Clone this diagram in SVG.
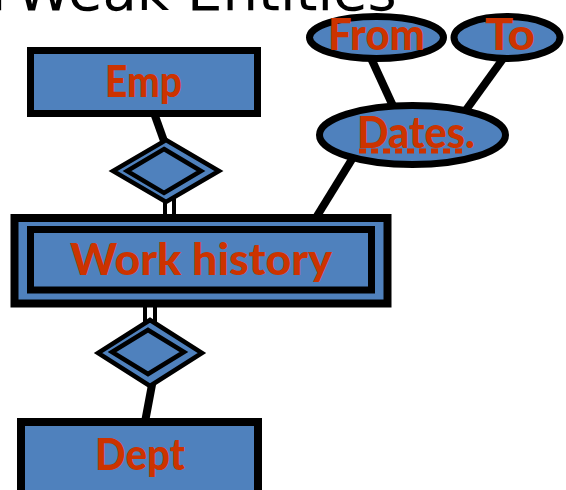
<svg xmlns="http://www.w3.org/2000/svg" width="566" height="490" viewBox="0 0 566 490">
  <style>
    .shape { fill: #4f81bd; stroke: #000; }
    .label { font-family: "Comic Sans MS", Lato, "DejaVu Sans", sans-serif; font-weight: 900; font-size: 44px; fill: #cc3300; text-anchor: middle; }
    .title { font-family: "DejaVu Sans", Verdana, sans-serif; font-size: 56px; fill: #000; }
    .link { stroke: #000; stroke-width: 8; fill: none; }
    .dbl { stroke: #000; stroke-width: 4; fill: none; }
  </style>

  <!-- heading, mostly above the top edge -->
  <text class="title" y="10"><tspan x="-9">r</tspan><tspan x="16">Weak Entities</tspan></text>

  <!-- connectors -->
  <g id="connectors">
    <line class="link" x1="154" y1="113" x2="164" y2="141"/>
    <line class="dbl" x1="165" y1="198" x2="165" y2="216"/>
    <line class="dbl" x1="174" y1="196" x2="174" y2="216"/>
    <line class="dbl" x1="145" y1="303" x2="145" y2="324"/>
    <line class="dbl" x1="155" y1="303" x2="155" y2="324"/>
    <line class="link" x1="154" y1="374" x2="145" y2="422"/>
    <line class="link" x1="317" y1="216" x2="354" y2="156"/>
    <line class="link" x1="370" y1="56" x2="393" y2="106"/>
    <line class="link" x1="505" y1="56" x2="466" y2="110"/>
  </g>

  <g id="emp">
    <rect class="shape" x="30.5" y="50.5" width="227" height="63" stroke-width="7"/>
    <text class="label" x="143.5" y="97" textLength="77" lengthAdjust="spacingAndGlyphs">Emp</text>
  </g>

  <g id="rel-emp">
    <polygon class="shape" points="166,140 219,171 166,202 113,171" stroke-width="4.5"/>
    <polygon class="shape" points="164,149 201,171 164,193 127,171" stroke-width="4.5"/>
  </g>

  <g id="work-history">
    <rect class="shape" x="14.5" y="218" width="373" height="85.5" stroke-width="8"/>
    <rect class="shape" x="30.5" y="229.5" width="341" height="60.5" stroke-width="7"/>
    <text class="label" x="201" y="275" textLength="262" lengthAdjust="spacingAndGlyphs">Work history</text>
  </g>

  <g id="rel-dept">
    <polygon class="shape" points="150,320 202,353 150,386 98,353" stroke-width="4.5"/>
    <polygon class="shape" points="148,330 184,352 148,374 112,352" stroke-width="4.5"/>
  </g>

  <g id="dept">
    <rect class="shape" x="21" y="422" width="237" height="80" stroke-width="8"/>
    <text class="label" x="140" y="470" textLength="90" lengthAdjust="spacingAndGlyphs">Dept</text>
  </g>

  <g id="dates">
    <ellipse class="shape" cx="412.5" cy="135" rx="93" ry="29.5" stroke-width="7"/>
    <text class="label" x="416" y="148" textLength="118" lengthAdjust="spacingAndGlyphs">Dates.</text>
    <line x1="359" y1="151" x2="466" y2="151" stroke="#cc3300" stroke-width="5" stroke-dasharray="7 5"/>
  </g>

  <g id="from">
    <ellipse class="shape" cx="376.5" cy="37.5" rx="67" ry="21" stroke-width="7"/>
    <text class="label" x="376.5" y="50" textLength="97" lengthAdjust="spacingAndGlyphs">From</text>
  </g>

  <g id="to">
    <ellipse class="shape" cx="507" cy="37.5" rx="53" ry="21" stroke-width="7"/>
    <text class="label" x="510" y="50" textLength="50" lengthAdjust="spacingAndGlyphs">To</text>
  </g>
</svg>
